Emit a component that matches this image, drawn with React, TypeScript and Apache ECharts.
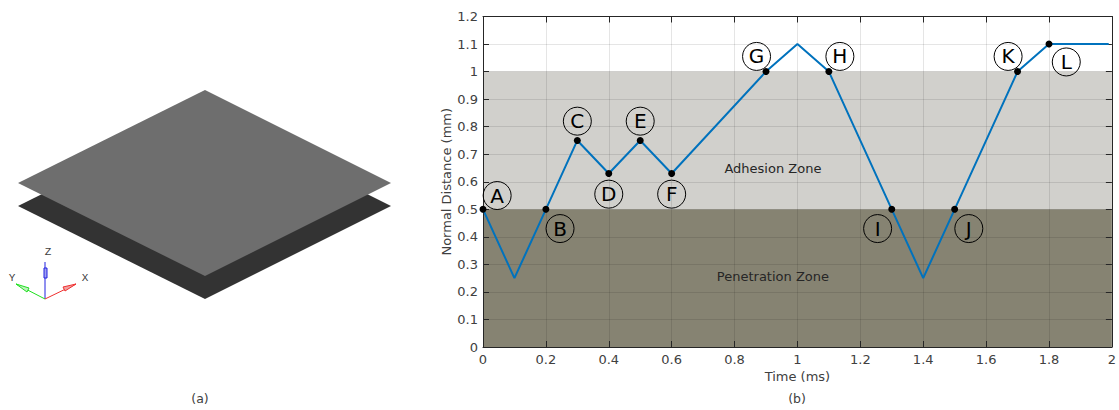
import React, { useEffect, useRef } from "react";
import * as echarts from "echarts";

const timeValues = [0, 0.1, 0.2, 0.3, 0.4, 0.5, 0.6, 0.9, 1.0, 1.1, 1.3, 1.4, 1.5, 1.7, 1.8, 1.99];
const distanceValues = [0.5, 0.25, 0.5, 0.75, 0.63, 0.75, 0.63, 1.0, 1.1, 1.0, 0.5, 0.25, 0.5, 1.0, 1.1, 1.1];
const markerTimes = [0, 0.2, 0.3, 0.4, 0.5, 0.6, 0.9, 1.1, 1.3, 1.5, 1.7, 1.8];
const markerDistances = [0.5, 0.5, 0.75, 0.63, 0.75, 0.63, 1.0, 1.0, 0.5, 0.5, 1.0, 1.1];
const letters = ["A", "B", "C", "D", "E", "F", "G", "H", "I", "J", "K", "L"];
const letterTimes = [0.045, 0.245, 0.3, 0.4, 0.5, 0.6, 0.87, 1.135, 1.255, 1.545, 1.67, 1.855];
const letterDistances = [0.55, 0.43, 0.82, 0.555, 0.82, 0.555, 1.055, 1.055, 0.43, 0.43, 1.055, 1.035];
const adhesionZone = [0.5, 1.0];
const penetrationZone = [0, 0.5];
const zoneNames = ["Adhesion Zone", "Penetration Zone"];
const zoneLabelTimes = [0.922, 0.922];
const zoneLabelDistances = [0.648, 0.257];

const FONT = "DejaVu Sans";
const TEXT = "#404040";
const AXIS = "#262626";
const GRID = "rgba(0,0,0,0.1)";

export default function App() {
  const ref = useRef<HTMLDivElement>(null);
  useEffect(() => {
    const chart = echarts.init(ref.current!, undefined, { renderer: "svg" });
    const baseAxis = {
      min: 0,
      z: 1.5,
      axisLine: { show: true, onZero: false, lineStyle: { color: AXIS, width: 1 } },
      axisTick: { show: true, inside: true, length: 6, lineStyle: { color: AXIS } },
      minorTick: { show: false },
    };
    const fmt = (v: number) => String(Math.round(v * 10) / 10);
    const line = (x1: number, y1: number, x2: number, y2: number, stroke: string, lineWidth = 1) => ({
      type: "line",
      shape: { x1, y1, x2, y2 },
      style: { stroke, lineWidth },
    });
    const label = (x: number, y: number, text: string, fontSize = 12.5) => ({
      type: "text",
      x,
      y,
      style: { text, fontFamily: FONT, fontSize, fill: TEXT, textAlign: "center", textVerticalAlign: "middle" },
    });
    const triad = (x: number, y: number, text: string) => ({
      type: "text",
      x,
      y,
      style: { text, fontFamily: "Liberation Mono", fontSize: 11, fill: "#404040", textAlign: "center", textVerticalAlign: "middle" },
    });
    chart.setOption({
      animation: false,
      backgroundColor: "#ffffff",
      grid: { left: 483, right: 7, top: 16.5, bottom: 63, show: false },
      xAxis: [
        {
          ...baseAxis,
          type: "value",
          position: "bottom",
          max: 2,
          interval: 0.2,
          splitLine: { show: true, lineStyle: { color: GRID, width: 1 } },
          axisLabel: { color: TEXT, fontFamily: FONT, fontSize: 13, margin: 6, formatter: fmt },
          name: "Time (ms)",
          nameLocation: "middle",
          nameGap: 23,
          nameMoveOverlap: false,
          nameTextStyle: { color: TEXT, fontFamily: FONT, fontSize: 13 },
        },
        {
          ...baseAxis,
          type: "value",
          position: "top",
          max: 2,
          interval: 0.2,
          splitLine: { show: false },
          axisLabel: { show: false },
        },
      ],
      yAxis: [
        {
          ...baseAxis,
          type: "value",
          position: "left",
          max: 1.2,
          interval: 0.1,
          splitLine: { show: true, lineStyle: { color: GRID, width: 1 } },
          axisLabel: { color: TEXT, fontFamily: FONT, fontSize: 13, margin: 5, formatter: fmt },
          name: "Normal Distance (mm)",
          nameLocation: "middle",
          nameGap: 30,
          nameMoveOverlap: false,
          nameTextStyle: { color: TEXT, fontFamily: FONT, fontSize: 13 },
        },
        {
          ...baseAxis,
          type: "value",
          position: "right",
          max: 1.2,
          interval: 0.1,
          splitLine: { show: false },
          axisLabel: { show: false },
        },
      ],
      series: [
        {
          type: "line",
          z: 3,
          symbol: "none",
          silent: true,
          lineStyle: { color: "#0072BD", width: 2 },
          data: timeValues.map((t, i) => [t, distanceValues[i]]),
          markArea: {
            silent: true,
            z: 1,
            label: { show: false },
            data: [
              [
                { yAxis: adhesionZone[0], itemStyle: { color: "#d1d0cc", opacity: 1 } },
                { yAxis: adhesionZone[1] },
              ],
              [
                { yAxis: penetrationZone[0], itemStyle: { color: "#868372", opacity: 1 } },
                { yAxis: penetrationZone[1] },
              ],
            ],
          },
        },
        {
          type: "scatter",
          z: 4,
          symbol: "circle",
          symbolSize: 7,
          silent: true,
          itemStyle: { color: "#000000", opacity: 1 },
          data: markerTimes.map((t, i) => [t, markerDistances[i]]),
        },
        {
          type: "scatter",
          z: 5,
          symbol: "circle",
          symbolSize: 28,
          silent: true,
          itemStyle: { color: "rgba(0,0,0,0)", borderColor: "#000000", borderWidth: 1, opacity: 1 },
          label: {
            show: true,
            position: "inside",
            color: "#000000",
            fontFamily: FONT,
            fontSize: 20,
            formatter: (p: any) => letters[p.dataIndex],
          },
          data: letterTimes.map((t, i) => [t, letterDistances[i]]),
        },
        {
          type: "scatter",
          z: 5,
          symbolSize: 1,
          silent: true,
          itemStyle: { color: "rgba(0,0,0,0)", opacity: 1 },
          label: {
            show: true,
            position: "inside",
            color: "#262626",
            fontFamily: FONT,
            fontSize: 13,
            formatter: (p: any) => zoneNames[p.dataIndex],
          },
          data: zoneLabelTimes.map((t, i) => [t, zoneLabelDistances[i]]),
        },
      ],
      graphic: [
        {
          type: "polygon",
          shape: { points: [[205, 113], [391, 206], [205, 299], [18, 206]] },
          style: { fill: "#333333" },
        },
        {
          type: "polygon",
          shape: { points: [[205, 90], [391, 183], [205, 276], [18, 183]] },
          style: { fill: "#6e6e6e" },
        },
        line(45, 299, 45, 262, "#2020e0", 1),
        { type: "rect", shape: { x: 44, y: 268, width: 3, height: 10 }, style: { fill: "#a0a0f0", stroke: "#2020e0", lineWidth: 1 } },
        line(45, 299, 16, 284, "#20e020", 1),
        { type: "polygon", shape: { points: [[16, 284], [29, 288], [27, 292]] }, style: { fill: "#c0f0c0", stroke: "#20e020", lineWidth: 1 } },
        line(45, 299, 76, 284, "#f03030", 1),
        { type: "polygon", shape: { points: [[76, 284], [63, 287], [65, 291]] }, style: { fill: "#f0a0a0", stroke: "#f03030", lineWidth: 1 } },
        triad(48, 252, "Z"),
        triad(12, 278, "Y"),
        triad(85, 278, "X"),
        label(200, 398, "(a)"),
        label(797, 398, "(b)"),
      ],
    });
    return () => chart.dispose();
  }, []);
  return <div ref={ref} style={{ position: "absolute", left: 0, top: 0, width: 1119, height: 410 }} />;
}
